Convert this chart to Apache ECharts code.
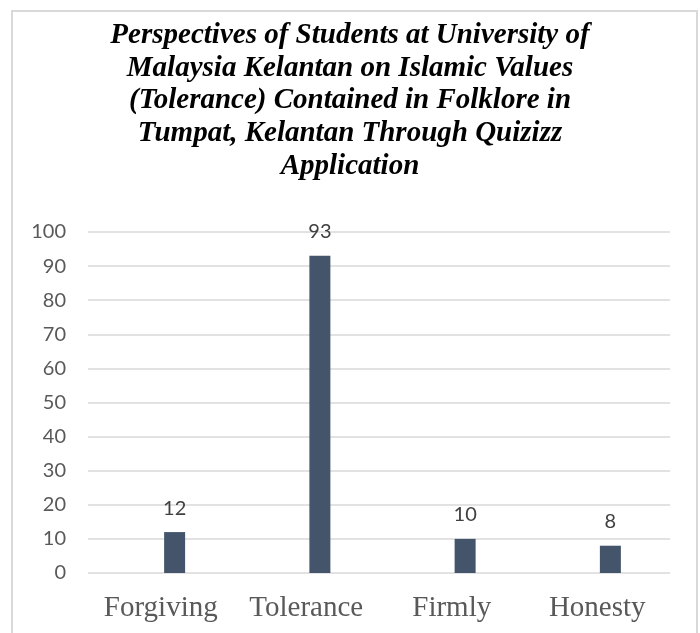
<!DOCTYPE html>
<html>
<head>
<meta charset="utf-8">
<script src="https://cdn.jsdelivr.net/npm/echarts@6/dist/echarts.min.js"></script>
<style>
  html, body { margin: 0; padding: 0; background: #ffffff; }
  #chart { width: 700px; height: 633px; }
</style>
</head>
<body>
<div id="chart"></div>
<script>
// Tolerance-related values chosen by students
const categories = ['Forgiving', 'Tolerance', 'Firmly', 'Honesty'];
const responses = [12, 93, 10, 8];
const yTicks = [0, 10, 20, 30, 40, 50, 60, 70, 80, 90, 100];

const titleLines = [
  'Perspectives of Students at University of',
  'Malaysia Kelantan on Islamic Values',
  '(Tolerance) Contained in Folklore in',
  'Tumpat, Kelantan Through Quizizz',
  'Application'
];

const SERIF = 'Liberation Serif';

const chart = echarts.init(document.getElementById('chart'));

chart.setOption({
  animation: false,
  backgroundColor: '#ffffff',
  title: {
    text: titleLines.join('\n'),
    left: 345,
    top: 14,
    textAlign: 'center',
    textStyle: {
      fontFamily: SERIF,
      fontStyle: 'italic',
      fontWeight: 'bold',
      fontSize: 29,
      lineHeight: 32.7,
      color: '#000000'
    }
  },
  graphic: [{
    type: 'rect',
    shape: { x: 12, y: 11, width: 685, height: 640 },
    style: { fill: 'none', stroke: '#d9d9d9', lineWidth: 2 },
    silent: true
  }],
  grid: [
    // plot area: gridlines and category labels
    { left: 88, right: 30, top: 232, bottom: 60 },
    // bars, set slightly to the right of the label slots
    { left: 102, right: 17, top: 232, bottom: 60 }
  ],
  xAxis: [
    {
      type: 'category',
      gridIndex: 0,
      data: categories,
      axisLine: { show: false },
      axisTick: { show: false },
      axisLabel: {
        interval: 0,
        hideOverlap: false,
        margin: 21,
        fontFamily: SERIF,
        fontSize: 29,
        color: '#595959'
      }
    },
    {
      type: 'category',
      gridIndex: 1,
      data: categories,
      show: false
    }
  ],
  yAxis: [
    {
      type: 'value',
      gridIndex: 0,
      min: yTicks[0],
      max: yTicks[yTicks.length - 1],
      interval: yTicks[1] - yTicks[0],
      axisLine: { show: false },
      axisTick: { show: false },
      axisLabel: {
        margin: 22,
        fontFamily: 'Lato',
        fontSize: 20,
        color: '#595959'
      },
      splitLine: { lineStyle: { color: '#d9d9d9', width: 1.5 } }
    },
    {
      type: 'value',
      gridIndex: 1,
      min: yTicks[0],
      max: yTicks[yTicks.length - 1],
      show: false,
      splitLine: { show: false }
    }
  ],
  series: [{
    type: 'bar',
    xAxisIndex: 1,
    yAxisIndex: 1,
    data: responses,
    barWidth: 21,
    itemStyle: { color: '#44546a' },
    label: {
      show: true,
      position: 'top',
      distance: 14,
      fontFamily: 'Lato',
      fontSize: 20,
      color: '#404040'
    }
  }]
});
</script>
</body>
</html>
